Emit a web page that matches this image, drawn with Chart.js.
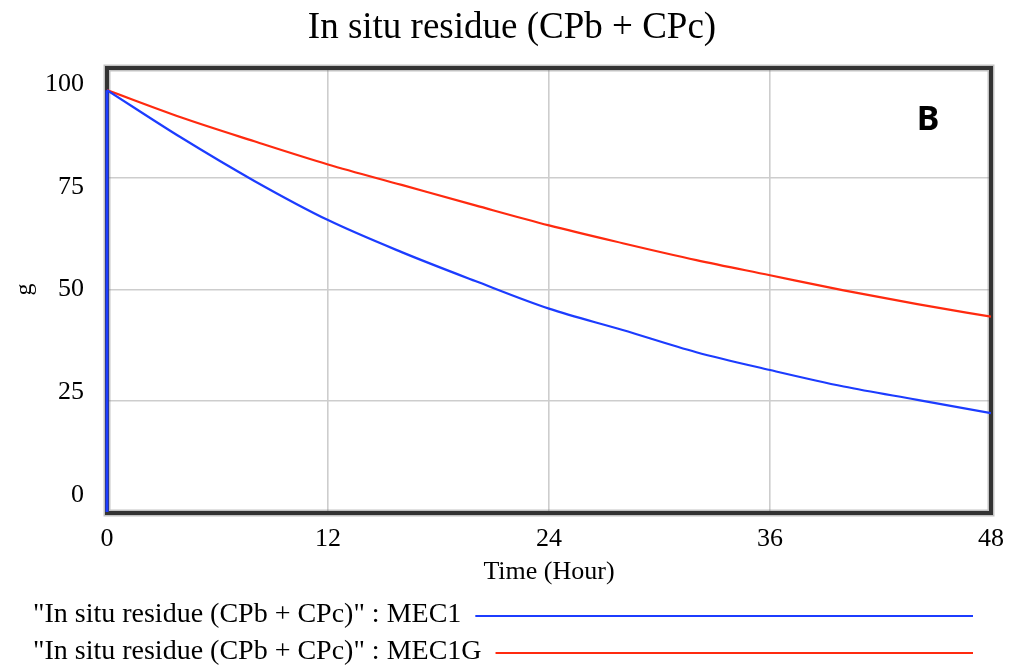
<!DOCTYPE html>
<html>
<head>
<meta charset="utf-8">
<title>In situ residue (CPb + CPc)</title>
<script src="https://cdn.jsdelivr.net/npm/chart.js@4.4.1/dist/chart.umd.min.js"></script>
<style>
    html, body { margin: 0; padding: 0; background: #fff; }
    #wrap { width: 1009px; height: 667px; }
</style>
</head>
<body>
<div id="wrap"><canvas id="residueChart" width="1009" height="667"></canvas></div>
<script>
// Values (g, every 4 hours)
const hours = [0, 4, 8, 12, 16, 20, 24, 28, 32, 36, 40, 44, 48];
const mec1 = [94.8, 84.2, 74.4, 65.6, 58.4, 51.9, 45.7, 40.9, 35.9, 31.9, 28.2, 25.2, 22.2];
const mec1g = [94.8, 88.7, 83.3, 78.1, 73.5, 68.9, 64.4, 60.4, 56.6, 53.2, 49.8, 46.7, 43.9];
// MEC1 also shows a jump from 0 at time 0 (vertical blue line on the axis)
const mec1JumpHours = [0, 0];
const mec1Jump = [0, 94.8];

const xTicks = [0, 12, 24, 36, 48];
const yTicks = [0, 25, 50, 75, 100];

const chartTitle = 'In situ residue (CPb + CPc)';
const seriesLabels = ['"In situ residue (CPb + CPc)" : MEC1', '"In situ residue (CPb + CPc)" : MEC1G'];
const panelLetter = 'B';

const SERIF = '"Liberation Serif", "Times New Roman", serif';
const BLUE = '#1c3cff';
const RED = '#ff2a0f';

function toPoints(xs, ys) {
    return xs.map((x, i) => ({ x: x, y: ys[i] }));
}

// Thick dark frame around the plot, drawn under the lines
const framePlugin = {
    id: 'frame',
    beforeDatasetsDraw(chart) {
        const { ctx, chartArea: a } = chart;
        ctx.save();
        ctx.strokeStyle = 'rgba(120,120,120,0.45)';
        ctx.lineWidth = 7;
        ctx.strokeRect(a.left, a.top + 1, a.right - a.left, a.bottom - a.top);
        ctx.strokeStyle = '#333333';
        ctx.lineWidth = 4;
        ctx.strokeRect(a.left, a.top + 1, a.right - a.left, a.bottom - a.top);
        ctx.restore();
    }
};

// Title, panel letter and the two-line legend under the axis
const extrasPlugin = {
    id: 'extras',
    afterDraw(chart) {
        const { ctx, chartArea: a } = chart;
        ctx.save();
        ctx.fillStyle = '#000';
        ctx.textAlign = 'center';
        ctx.textBaseline = 'middle';
        ctx.font = '37px ' + SERIF;
        ctx.fillText(chartTitle, 512, 28);

        ctx.font = 'bold 34px "Noto Sans", "Open Sans", sans-serif';
        ctx.fillText(panelLetter, a.right - 63, a.top + 53);

        ctx.font = '28px ' + SERIF;
        ctx.textAlign = 'left';
        chart.data.datasets.filter(ds => ds.label).forEach((ds, i) => {
            const y = a.bottom + 103 + i * 37;
            ctx.fillStyle = '#000';
            ctx.fillText(ds.label, 33, y);
            const w = ctx.measureText(ds.label).width;
            ctx.strokeStyle = ds.borderColor;
            ctx.lineWidth = 2;
            ctx.beginPath();
            ctx.moveTo(33 + w + 14, y + 1);
            ctx.lineTo(973, y + 1);
            ctx.stroke();
        });
        ctx.restore();
    }
};

const ctx = document.getElementById('residueChart').getContext('2d');
const residueChart = new Chart(ctx, {
    type: 'line',
    data: {
        datasets: [{
            label: seriesLabels[0],
            data: toPoints(hours, mec1),
            borderColor: BLUE,
            borderWidth: 2.2,
            pointRadius: 0,
            cubicInterpolationMode: 'monotone',
            fill: false
        }, {
            label: seriesLabels[1],
            data: toPoints(hours, mec1g),
            borderColor: RED,
            borderWidth: 2.2,
            pointRadius: 0,
            cubicInterpolationMode: 'monotone',
            fill: false
        }, {
            label: '',
            data: toPoints(mec1JumpHours, mec1Jump),
            borderColor: BLUE,
            borderWidth: 3,
            pointRadius: 0,
            tension: 0,
            clip: false,
            fill: false
        }]
    },
    options: {
        responsive: false,
        animation: false,
        layout: {
            padding: { top: 67, left: 8, right: 18, bottom: 75 }
        },
        scales: {
            x: {
                type: 'linear',
                min: 0,
                max: 48,
                afterBuildTicks: s => { s.ticks = xTicks.map(v => ({ value: v })); },
                afterFit: s => { s.height = 80; s.paddingLeft = 0; s.paddingRight = 0; },
                border: { display: false },
                grid: { color: '#cdcdcd', lineWidth: 1.6, drawTicks: false },
                ticks: {
                    color: '#000',
                    padding: 12,
                    maxRotation: 0,
                    font: { family: SERIF, size: 26 }
                },
                title: {
                    display: true,
                    text: 'Time (Hour)',
                    color: '#000',
                    padding: { top: 0, bottom: 4 },
                    font: { family: SERIF, size: 26 }
                }
            },
            y: {
                position: 'left',
                min: 0,
                max: 100,
                afterBuildTicks: s => { s.ticks = yTicks.map(v => ({ value: v })); },
                afterFit: s => { s.width = 0; s.paddingTop = 0; s.paddingBottom = 0; },
                border: { display: false },
                grid: { color: '#cdcdcd', lineWidth: 1.6, drawTicks: false },
                ticks: { display: false }
            },
            // label axis: Vensim places the numbers a bit off the gridlines
            yLabels: {
                position: 'left',
                min: -4.1,
                max: 104.1,
                afterBuildTicks: s => { s.ticks = yTicks.map(v => ({ value: v })); },
                afterFit: s => { s.width = 99; s.paddingTop = 0; s.paddingBottom = 0; },
                border: { display: false },
                grid: { display: false, drawTicks: false },
                ticks: {
                    color: '#000',
                    padding: 23,
                    font: { family: SERIF, size: 26 }
                },
                title: {
                    display: true,
                    text: 'g',
                    color: '#000',
                    padding: { top: 2, bottom: 0 },
                    font: { family: SERIF, size: 24 }
                }
            }
        },
        plugins: {
            title: { display: false },
            legend: { display: false },
            tooltip: { enabled: false }
        }
    },
    plugins: [framePlugin, extrasPlugin]
});
</script>
</body>
</html>
